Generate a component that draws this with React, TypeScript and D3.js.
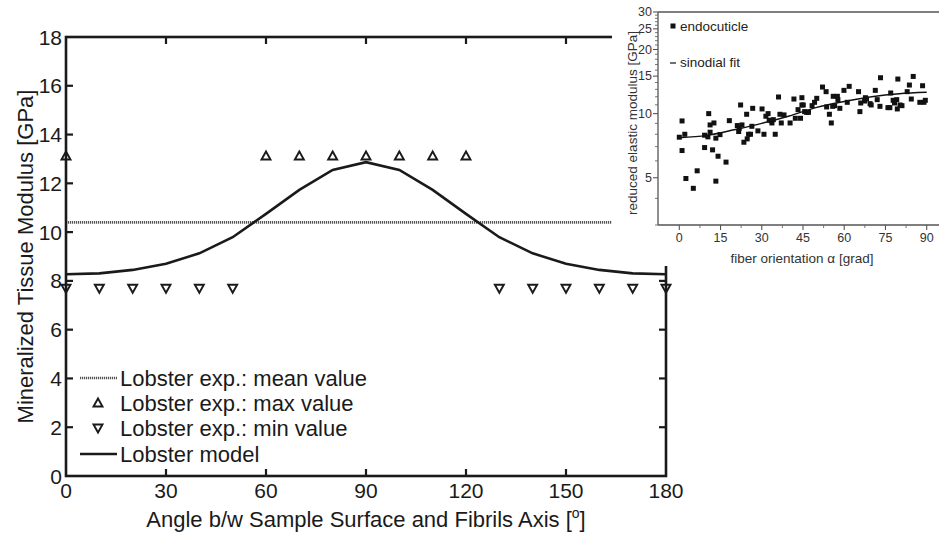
import React from "react";
import * as d3 from "d3";

// ---------- Main chart data ----------
const angles = [0, 10, 20, 30, 40, 50, 60, 70, 80, 90, 100, 110, 120, 130, 140, 150, 160, 170, 180];
const modelValues = [8.27, 8.31, 8.45, 8.7, 9.13, 9.79, 10.75, 11.73, 12.55, 12.87, 12.55, 11.73, 10.75, 9.79, 9.13, 8.7, 8.45, 8.31, 8.27];
const meanValue = 10.4;
const maxAngles = [0, 60, 70, 80, 90, 100, 110, 120, 180];
const maxValue = 13.12;
const minAngles = [0, 10, 20, 30, 40, 50, 130, 140, 150, 160, 170, 180];
const minValue = 7.7;
const xTicks = [0, 30, 60, 90, 120, 150, 180];
const yTicks = [0, 2, 4, 6, 8, 10, 12, 14, 16, 18];
const legendLabels = [
  "Lobster exp.: mean value",
  "Lobster exp.: max value",
  "Lobster exp.: min value",
  "Lobster model",
];

// ---------- Inset data ----------
const endoAngle = [0, 1, 2, 1, 2.4, 5.1, 6.5, 9.2, 9.2, 10.7, 10.4, 11.2, 11.2, 12.6, 12.1, 13.3, 13.3, 14.1, 14.8, 17.0, 18.2, 21.1, 21.6, 21.8, 22.3, 22.8, 23.5, 24.5, 24.7, 25.2, 25.9, 26.4, 26.7, 28.6, 30.1, 30.8, 31.5, 32.3, 32.7, 33.5, 33.7, 34.2, 34.9, 36.1, 36.6, 37.1, 38.1, 40.3, 41.7, 42.2, 43.2, 44.1, 44.6, 44.6, 45.1, 45.6, 46.3, 47.0, 48.3, 49.2, 50.0, 52.1, 53.4, 53.6, 54.6, 55.3, 55.8, 56.0, 56.5, 57.5, 57.7, 58.4, 59.9, 61.1, 61.8, 65.2, 65.7, 66.0, 67.4, 67.7, 68.1, 69.4, 69.8, 71.3, 72.0, 73.0, 73.2, 75.9, 76.6, 76.9, 77.8, 78.3, 79.1, 79.3, 79.5, 80.3, 81.0, 82.9, 83.7, 84.4, 85.1, 87.5, 88.5, 89.0, 89.5];
const endoModulus = [7.75, 9.24, 8.0, 6.71, 4.96, 4.46, 5.39, 6.93, 7.92, 10.0, 7.78, 8.18, 8.85, 9.04, 6.76, 7.67, 4.82, 6.31, 7.97, 5.92, 9.27, 8.79, 8.24, 8.54, 10.98, 8.85, 7.34, 9.93, 7.61, 8.0, 8.0, 8.72, 10.59, 8.3, 10.52, 8.0, 9.72, 10.0, 9.31, 9.24, 9.04, 9.37, 8.0, 11.97, 9.93, 9.04, 9.86, 9.04, 11.71, 9.51, 10.44, 9.51, 10.98, 11.88, 10.98, 10.22, 10.14, 10.14, 10.9, 11.3, 11.8, 13.33, 12.68, 10.75, 9.93, 9.04, 10.82, 12.06, 10.9, 12.06, 11.63, 10.59, 12.86, 11.3, 13.43, 12.68, 10.22, 11.22, 11.46, 11.88, 11.71, 11.14, 10.98, 12.86, 11.63, 10.82, 14.74, 10.67, 10.67, 12.5, 11.55, 11.22, 11.63, 10.52, 14.53, 10.98, 10.9, 12.68, 13.62, 11.71, 14.95, 11.3, 13.52, 11.3, 11.55];
const fitAngle = [0, 10, 20, 30, 40, 50, 60, 70, 80, 90];
const fitModulus = [7.7, 7.9, 8.4, 9.0, 9.75, 10.7, 11.4, 12.0, 12.4, 12.6];
const insetXTicks = [0, 15, 30, 45, 60, 75, 90];
const insetXMinor = [7.5, 22.5, 37.5, 52.5, 67.5, 82.5, 97.5];
const insetYTicks = [5, 10, 15, 20, 25, 30];
const insetYMinor = [3, 4, 6, 7, 8, 9, 11, 12, 13, 14, 16, 17, 18, 19, 21, 22, 23, 24, 26, 27, 28, 29];

const FONT = "'Liberation Sans', Arial, Helvetica, sans-serif";
const INK = "#1a1a1a";

function triUp(x: number, y: number) {
  return `M${x - 4.5},${y + 3.5}L${x + 4.5},${y + 3.5}L${x},${y - 4.5}Z`;
}
function triDown(x: number, y: number) {
  return `M${x - 4.5},${y - 3.5}L${x + 4.5},${y - 3.5}L${x},${y + 4.5}Z`;
}

export default function App() {
  const x = d3.scaleLinear().domain([0, 180]).range([66, 666]);
  const y = d3.scaleLinear().domain([0, 18]).range([476, 37]);
  const modelPath = d3
    .line<number>()
    .x((_, i) => x(angles[i]))
    .y((d) => y(d))(modelValues) as string;

  // inset scales
  const ix = d3.scaleLinear().domain([0, 90]).range([679.3, 926.7]);
  const iy = d3.scaleLog().domain([3, 30]).range([225, 12]);
  const iLeft = ix(-7.75);
  const fitPath = d3
    .line<number>()
    .x((_, i) => ix(fitAngle[i]))
    .y((d) => iy(d))
    .curve(d3.curveMonotoneX)(fitModulus) as string;

  const legendY = [378, 403, 428, 454];

  return (
    <svg
      width={939}
      height={538}
      style={{ position: "absolute", left: 0, top: 0, background: "#fff" }}
      fontFamily={FONT}
    >
      <rect x={0} y={0} width={939} height={538} fill="#fff" />
      {/* ---- Main chart ---- */}
      {/* mean line */}
      <line x1={x(0)} x2={x(180)} y1={y(meanValue)} y2={y(meanValue)} stroke="#555" strokeWidth={2.6} strokeDasharray="1.2 0.8" />
      {/* model */}
      <path d={modelPath} fill="none" stroke={INK} strokeWidth={2.6} />
      {/* max markers */}
      {maxAngles.map((a, i) => (
        <path key={"mx" + i} d={triUp(x(a), y(maxValue))} fill="#fff" stroke={INK} strokeWidth={1.9} />
      ))}
      {minAngles.map((a, i) => (
        <path key={"mn" + i} d={triDown(x(a), y(minValue))} fill="#fff" stroke={INK} strokeWidth={1.9} />
      ))}
      {/* frame */}
      <rect x={x(0)} y={y(18)} width={x(180) - x(0)} height={y(0) - y(18)} fill="none" stroke={INK} strokeWidth={2.6} />
      {/* ticks */}
      {xTicks.slice(1, -1).map((t) => (
        <g key={"xt" + t}>
          <line x1={x(t)} x2={x(t)} y1={y(0)} y2={y(0) - 7} stroke={INK} strokeWidth={2.2} />
          <line x1={x(t)} x2={x(t)} y1={y(18)} y2={y(18) + 7} stroke={INK} strokeWidth={2.2} />
        </g>
      ))}
      {yTicks.slice(1, -1).map((t) => (
        <g key={"yt" + t}>
          <line x1={x(0)} x2={x(0) + 7} y1={y(t)} y2={y(t)} stroke={INK} strokeWidth={2.2} />
          <line x1={x(180)} x2={x(180) - 7} y1={y(t)} y2={y(t)} stroke={INK} strokeWidth={2.2} />
        </g>
      ))}
      {xTicks.map((t) => (
        <text key={"xl" + t} x={x(t)} y={498} textAnchor="middle" fontSize={21} fill={INK}>
          {t}
        </text>
      ))}
      {yTicks.map((t) => (
        <text key={"yl" + t} x={62} y={y(t)} dy="0.36em" textAnchor="end" fontSize={21} fill={INK}>
          {t}
        </text>
      ))}
      <text x={366} y={527} textAnchor="middle" fontSize={22} fill={INK}>
        Angle b/w Sample Surface and Fibrils Axis [
        <tspan fontSize={14} dy={-9}>o</tspan>
        <tspan dy={9}>]</tspan>
      </text>
      <text transform={`translate(33,${y(9) + 0})rotate(-90)`} textAnchor="middle" fontSize={22} fill={INK}>
        Mineralized Tissue Modulus [GPa]
      </text>
      {/* legend */}
      <line x1={80} x2={117} y1={legendY[0]} y2={legendY[0]} stroke="#555" strokeWidth={2.6} strokeDasharray="1.2 0.8" />
      <path d={triUp(98, legendY[1])} fill="#fff" stroke={INK} strokeWidth={1.9} />
      <path d={triDown(98, legendY[2])} fill="#fff" stroke={INK} strokeWidth={1.9} />
      <line x1={80} x2={117} y1={legendY[3]} y2={legendY[3]} stroke={INK} strokeWidth={2.6} />
      {legendLabels.map((l, i) => (
        <text key={"lg" + i} x={120} y={legendY[i] + 8} fontSize={22} fill={INK}>
          {l}
        </text>
      ))}

      {/* ---- Inset ---- */}
      <rect x={612} y={0} width={327} height={266} fill="#fff" />
      <g>
        {endoAngle.map((a, i) => (
          <rect key={"p" + i} x={ix(a) - 2.5} y={iy(endoModulus[i]) - 2.5} width={5} height={5} fill="#111" />
        ))}
        <path d={fitPath} fill="none" stroke="#111" strokeWidth={1.4} />
        {/* axes */}
        <line x1={iLeft} x2={iLeft} y1={12} y2={225} stroke="#555" strokeWidth={1.3} />
        <line x1={iLeft} x2={945} y1={225} y2={225} stroke="#555" strokeWidth={1.3} />
        <line x1={iLeft} x2={945} y1={12} y2={12} stroke="#555" strokeWidth={1.3} />
        {insetYTicks.map((t) => (
          <g key={"iyt" + t}>
            <line x1={iLeft - 5} x2={iLeft} y1={iy(t)} y2={iy(t)} stroke="#555" strokeWidth={1.1} />
            <text x={iLeft - 6} y={iy(t)} dy="0.35em" textAnchor="end" fontSize={12.5} fill="#333">
              {t}
            </text>
          </g>
        ))}
        {insetYMinor.map((t) => (
          <line key={"iym" + t} x1={iLeft - 3} x2={iLeft} y1={iy(t)} y2={iy(t)} stroke="#666" strokeWidth={0.9} />
        ))}
        {insetXTicks.map((t) => (
          <g key={"ixt" + t}>
            <line x1={ix(t)} x2={ix(t)} y1={225} y2={230} stroke="#555" strokeWidth={1.1} />
            <text x={ix(t)} y={242} textAnchor="middle" fontSize={12.5} fill="#333">
              {t}
            </text>
          </g>
        ))}
        {insetXMinor.map((t) => (
          <line key={"ixm" + t} x1={ix(t)} x2={ix(t)} y1={225} y2={228} stroke="#666" strokeWidth={0.9} />
        ))}
        <text x={802} y={263} textAnchor="middle" fontSize={13.5} fill="#333">
          fiber orientation α [grad]
        </text>
        <text transform={`translate(637,123)rotate(-90)`} textAnchor="middle" fontSize={13.5} fill="#333">
          reduced elastic modulus [GPa]
        </text>
        {/* inset legend */}
        <rect x={670.5} y={23.5} width={5} height={5} fill="#111" />
        <text x={680} y={31} fontSize={13.5} fill="#222">endocuticle</text>
        <line x1={670} x2={676} y1={63} y2={63} stroke="#222" strokeWidth={1.3} />
        <text x={680} y={67} fontSize={13.5} fill="#222">sinodial fit</text>
      </g>
    </svg>
  );
}
